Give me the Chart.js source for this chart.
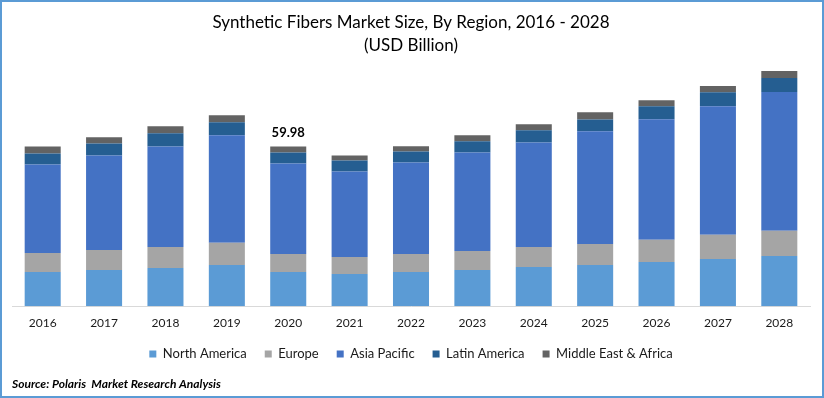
<!DOCTYPE html>
<html>
<head>
<meta charset="utf-8">
<title>Synthetic Fibers Market Size, By Region</title>
<script src="https://cdn.jsdelivr.net/npm/chart.js@4"></script>
<style>
    html, body { margin: 0; padding: 0; background: #fff; }
    .frame {
        width: 824px;
        height: 398px;
        box-sizing: border-box;
        border: 2px solid #5b9bd5;
    }
    .chart-box { position: relative; width: 820px; height: 394px; }
</style>
</head>
<body>
<div class="frame">
    <div class="chart-box"><canvas id="marketChart"></canvas></div>
</div>
<script>
// Chart data (USD Billion)
const years = ['2016', '2017', '2018', '2019', '2020', '2021', '2022', '2023', '2024', '2025', '2026', '2027', '2028'];
const northAmerica = [12.83, 13.58, 14.33, 15.47, 12.83, 12.07, 12.83, 13.58, 14.71, 15.47, 16.60, 17.73, 18.86];
const europe = [7.17, 7.54, 7.92, 8.30, 6.79, 6.41, 6.79, 7.17, 7.54, 7.92, 8.30, 9.05, 9.43];
const asiaPacific = [33.19, 35.46, 37.72, 40.36, 33.95, 32.06, 34.33, 36.97, 39.23, 42.25, 45.27, 48.28, 52.06];
const latinAmerica = [4.15, 4.53, 4.90, 4.90, 4.15, 4.15, 4.15, 4.15, 4.53, 4.40, 4.90, 5.28, 5.28];
const middleEastAfrica = [2.64, 2.26, 2.64, 2.64, 2.26, 1.89, 1.89, 2.26, 2.26, 2.77, 2.26, 2.26, 2.64];

// Years that get a total label above the bar
const labelledYears = ['2020'];

const FONT = 'Lato, "Open Sans", sans-serif';

// Draws the total value above the labelled bars
const totalLabelPlugin = {
    id: 'totalLabel',
    afterDatasetsDraw(chart) {
        const ctx = chart.ctx;
        const lastIndex = chart.data.datasets.length - 1;
        const topMeta = chart.getDatasetMeta(lastIndex);

        labelledYears.forEach(year => {
            const i = years.indexOf(year);
            if (i < 0) return;
            let total = 0;
            chart.data.datasets.forEach(ds => { total += ds.data[i]; });
            const bar = topMeta.data[i];

            ctx.save();
            ctx.font = 'bold 13px ' + FONT;
            ctx.fillStyle = '#000';
            ctx.textAlign = 'center';
            ctx.textBaseline = 'middle';
            ctx.fillText(total.toFixed(2), bar.x, bar.y - 14);
            ctx.restore();
        });
    }
};

function makeDataset(label, data, color) {
    return {
        label: label,
        data: data,
        backgroundColor: color,
        borderWidth: 0,
        barPercentage: 0.587,
        categoryPercentage: 1
    };
}

new Chart(document.getElementById('marketChart'), {
    type: 'bar',
    data: {
        labels: years,
        datasets: [
            makeDataset('North America', northAmerica, '#5b9bd5'),
            makeDataset('Europe', europe, '#a5a5a5'),
            makeDataset('Asia Pacific', asiaPacific, '#4472c4'),
            makeDataset('Latin America', latinAmerica, '#255e91'),
            makeDataset('Middle East & Africa', middleEastAfrica, '#636363')
        ]
    },
    options: {
        responsive: true,
        maintainAspectRatio: false,
        animation: false,
        layout: {
            padding: { left: 10, right: 12, top: 0, bottom: 1 }
        },
        scales: {
            x: {
                stacked: true,
                grid: { display: false, drawTicks: false },
                border: { display: true, color: '#d9d9d9', width: 1 },
                ticks: {
                    color: '#1a1a1a',
                    padding: 10,
                    font: { family: FONT, size: 12 }
                },
                // pull the legend a little closer to the year labels
                afterFit(scale) {
                    scale.height -= 11;
                }
            },
            y: {
                stacked: true,
                display: false,
                min: 0,
                max: 90
            }
        },
        plugins: {
            title: {
                display: true,
                text: ['Synthetic Fibers Market Size, By Region, 2016 - 2028', '(USD Billion)'],
                color: '#000',
                font: { family: FONT, size: 17, weight: 'normal', lineHeight: 1.35 },
                padding: { top: 9, bottom: 9.5 }
            },
            subtitle: {
                display: true,
                position: 'bottom',
                align: 'start',
                text: 'Source: Polaris  Market Research Analysis',
                color: '#000',
                font: { family: FONT, size: 12, style: 'italic', weight: 'bold' },
                padding: { top: 6, bottom: 4 }
            },
            legend: {
                position: 'bottom',
                labels: {
                    boxWidth: 7,
                    boxHeight: 7,
                    padding: 18,
                    color: '#1a1a1a',
                    font: { family: FONT, size: 13 }
                }
            },
            tooltip: { enabled: false }
        }
    },
    plugins: [totalLabelPlugin]
});
</script>
</body>
</html>
